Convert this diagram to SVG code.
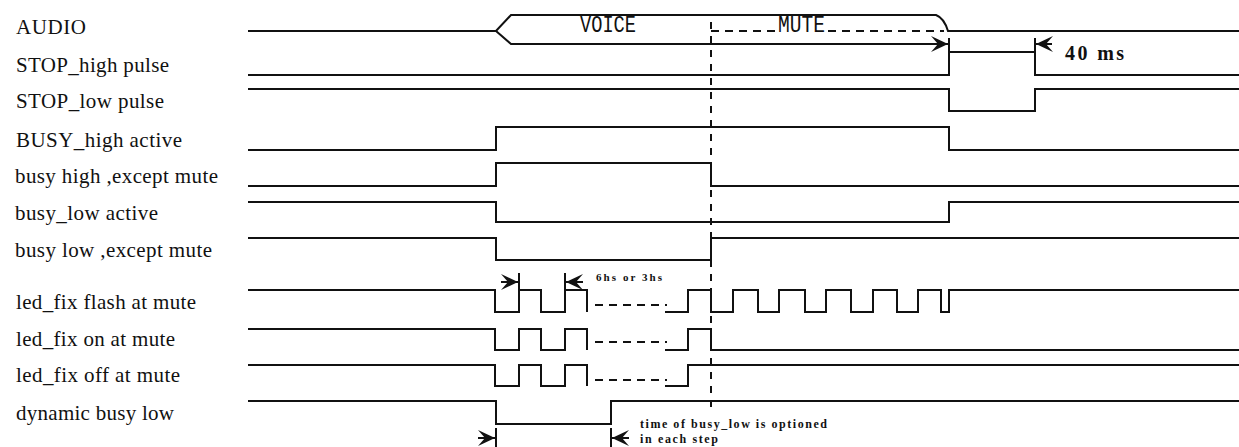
<svg xmlns="http://www.w3.org/2000/svg" xmlns:xlink="http://www.w3.org/1999/xlink" width="1239" height="447" viewBox="0 0 1239 447">
<style>
.lbl{font-family:"Liberation Serif","Times New Roman",serif;font-size:21px;fill:#111}
.bus{font-family:"Liberation Mono","Courier New",monospace;font-size:23px;fill:#111}
.dim{font-family:"Liberation Serif","Times New Roman",serif;font-weight:bold;fill:#111}
.w{fill:none;stroke:#111;stroke-width:2}
.dash{fill:none;stroke:#111;stroke-width:2;stroke-dasharray:7,7}
.hd{fill:none;stroke:#111;stroke-width:2;stroke-dasharray:8,6}
.ext{fill:none;stroke:#111;stroke-width:2}
.ah{fill:#111}
</style>
<defs>
<path id="ah" d="M0,0 L-17,-8 L-10,0 L-17,8 Z"/>
</defs>
<rect width="1239" height="447" fill="#fff"/>

<g id="sig-audio">
<text class="lbl" x="16" y="34" textLength="70">AUDIO</text>
<path class="w" d="M248,31 H496 L511,15 H936 Q944,18 948,31 H1239 M496,31 L511,44 H948"/>
<text class="bus" x="580" y="32" textLength="56" lengthAdjust="spacingAndGlyphs">VOICE</text>
<text class="bus" x="778" y="32" textLength="47" lengthAdjust="spacingAndGlyphs">MUTE</text>
</g>

<g id="sig-stop-high">
<text class="lbl" x="16" y="72" textLength="153">STOP_high pulse</text>
<path class="w" d="M248,75 H949 V52 H1035 V75 H1239"/>
</g>

<g id="sig-stop-low">
<text class="lbl" x="16" y="108" textLength="148">STOP_low pulse</text>
<path class="w" d="M248,89 H949 V111 H1035 V89 H1239"/>
</g>

<g id="sig-busy-high-active">
<text class="lbl" x="16" y="147" textLength="166">BUSY_high active</text>
<path class="w" d="M248,150 H496 V127 H949 V150 H1239"/>
</g>

<g id="sig-busy-high-except">
<text class="lbl" x="15" y="183" textLength="203">busy high ,except mute</text>
<path class="w" d="M248,186 H496 V163 H711 V186 H1239"/>
</g>

<g id="sig-busy-low-active">
<text class="lbl" x="15" y="220" textLength="143">busy_low active</text>
<path class="w" d="M248,202 H496 V222 H949 V202 H1239"/>
</g>

<g id="sig-busy-low-except">
<text class="lbl" x="15" y="257" textLength="197">busy low ,except mute</text>
<path class="w" d="M248,238 H496 V260 H711 V238 H1239"/>
</g>

<g id="sig-led-flash">
<text class="lbl" x="16" y="309" textLength="180">led_fix flash at mute</text>
<path class="w" d="M248,290 H495 V312 H519 V290 H541 V312 H565 V290 H587 V312 M665,312 H688 V290 H711 V312 H733 V290 H758 V312 H779 V290 H805 V312 H826 V290 H851 V312 H873 V290 H897 V312 H918 V290 H941 V312 H949 V290 H1239"/>
<path class="hd" d="M595,305 H667"/>
</g>

<g id="sig-led-on">
<text class="lbl" x="16" y="346" textLength="159">led_fix on at mute</text>
<path class="w" d="M248,329 H495 V350 H519 V329 H541 V350 H565 V329 H587 V350 M665,350 H688 V329 H711 V350 H1239"/>
<path class="hd" d="M595,342 H667"/>
</g>

<g id="sig-led-off">
<text class="lbl" x="16" y="382" textLength="164">led_fix off at mute</text>
<path class="w" d="M248,365 H495 V386 H519 V365 H541 V386 H565 V365 H587 V386 M665,386 H688 V365 H1239"/>
<path class="hd" d="M595,380 H667"/>
</g>

<g id="sig-dynamic">
<text class="lbl" x="16" y="420" textLength="158">dynamic busy low</text>
<path class="w" d="M248,401 H496 V424 H611 V401 H1239"/>
</g>

<g id="connectors">
<path class="dash" d="M711,22 V408"/>
<path class="hd" d="M711,31 H776 M828,31 H944"/>
<path class="ext" d="M949,38 V52 M1035,38 V52 M1035,44 H1052"/>
<use href="#ah" class="ah" transform="translate(948,44)"/>
<use href="#ah" class="ah" transform="translate(1036,44) scale(-1,1)"/>
<text class="dim" x="1065" y="60" font-size="20" textLength="59">40 ms</text>
<path class="ext" d="M519,273 V290 M565,273 V290 M501,282 H519 M565,282 H583"/>
<use href="#ah" class="ah" transform="translate(518,282)"/>
<use href="#ah" class="ah" transform="translate(566,282) scale(-1,1)"/>
<text class="dim" x="596" y="281" font-size="11" textLength="66">6hs or 3hs</text>
<path class="ext" d="M496,428 V447 M611,428 V447 M478,438 H496 M611,438 H629"/>
<use href="#ah" class="ah" transform="translate(495,438)"/>
<use href="#ah" class="ah" transform="translate(612,438) scale(-1,1)"/>
<text class="dim" x="640" y="428" font-size="12" textLength="187">time of busy_low is optioned</text>
<text class="dim" x="640" y="443" font-size="12" textLength="78">in each step</text>
</g>
</svg>
